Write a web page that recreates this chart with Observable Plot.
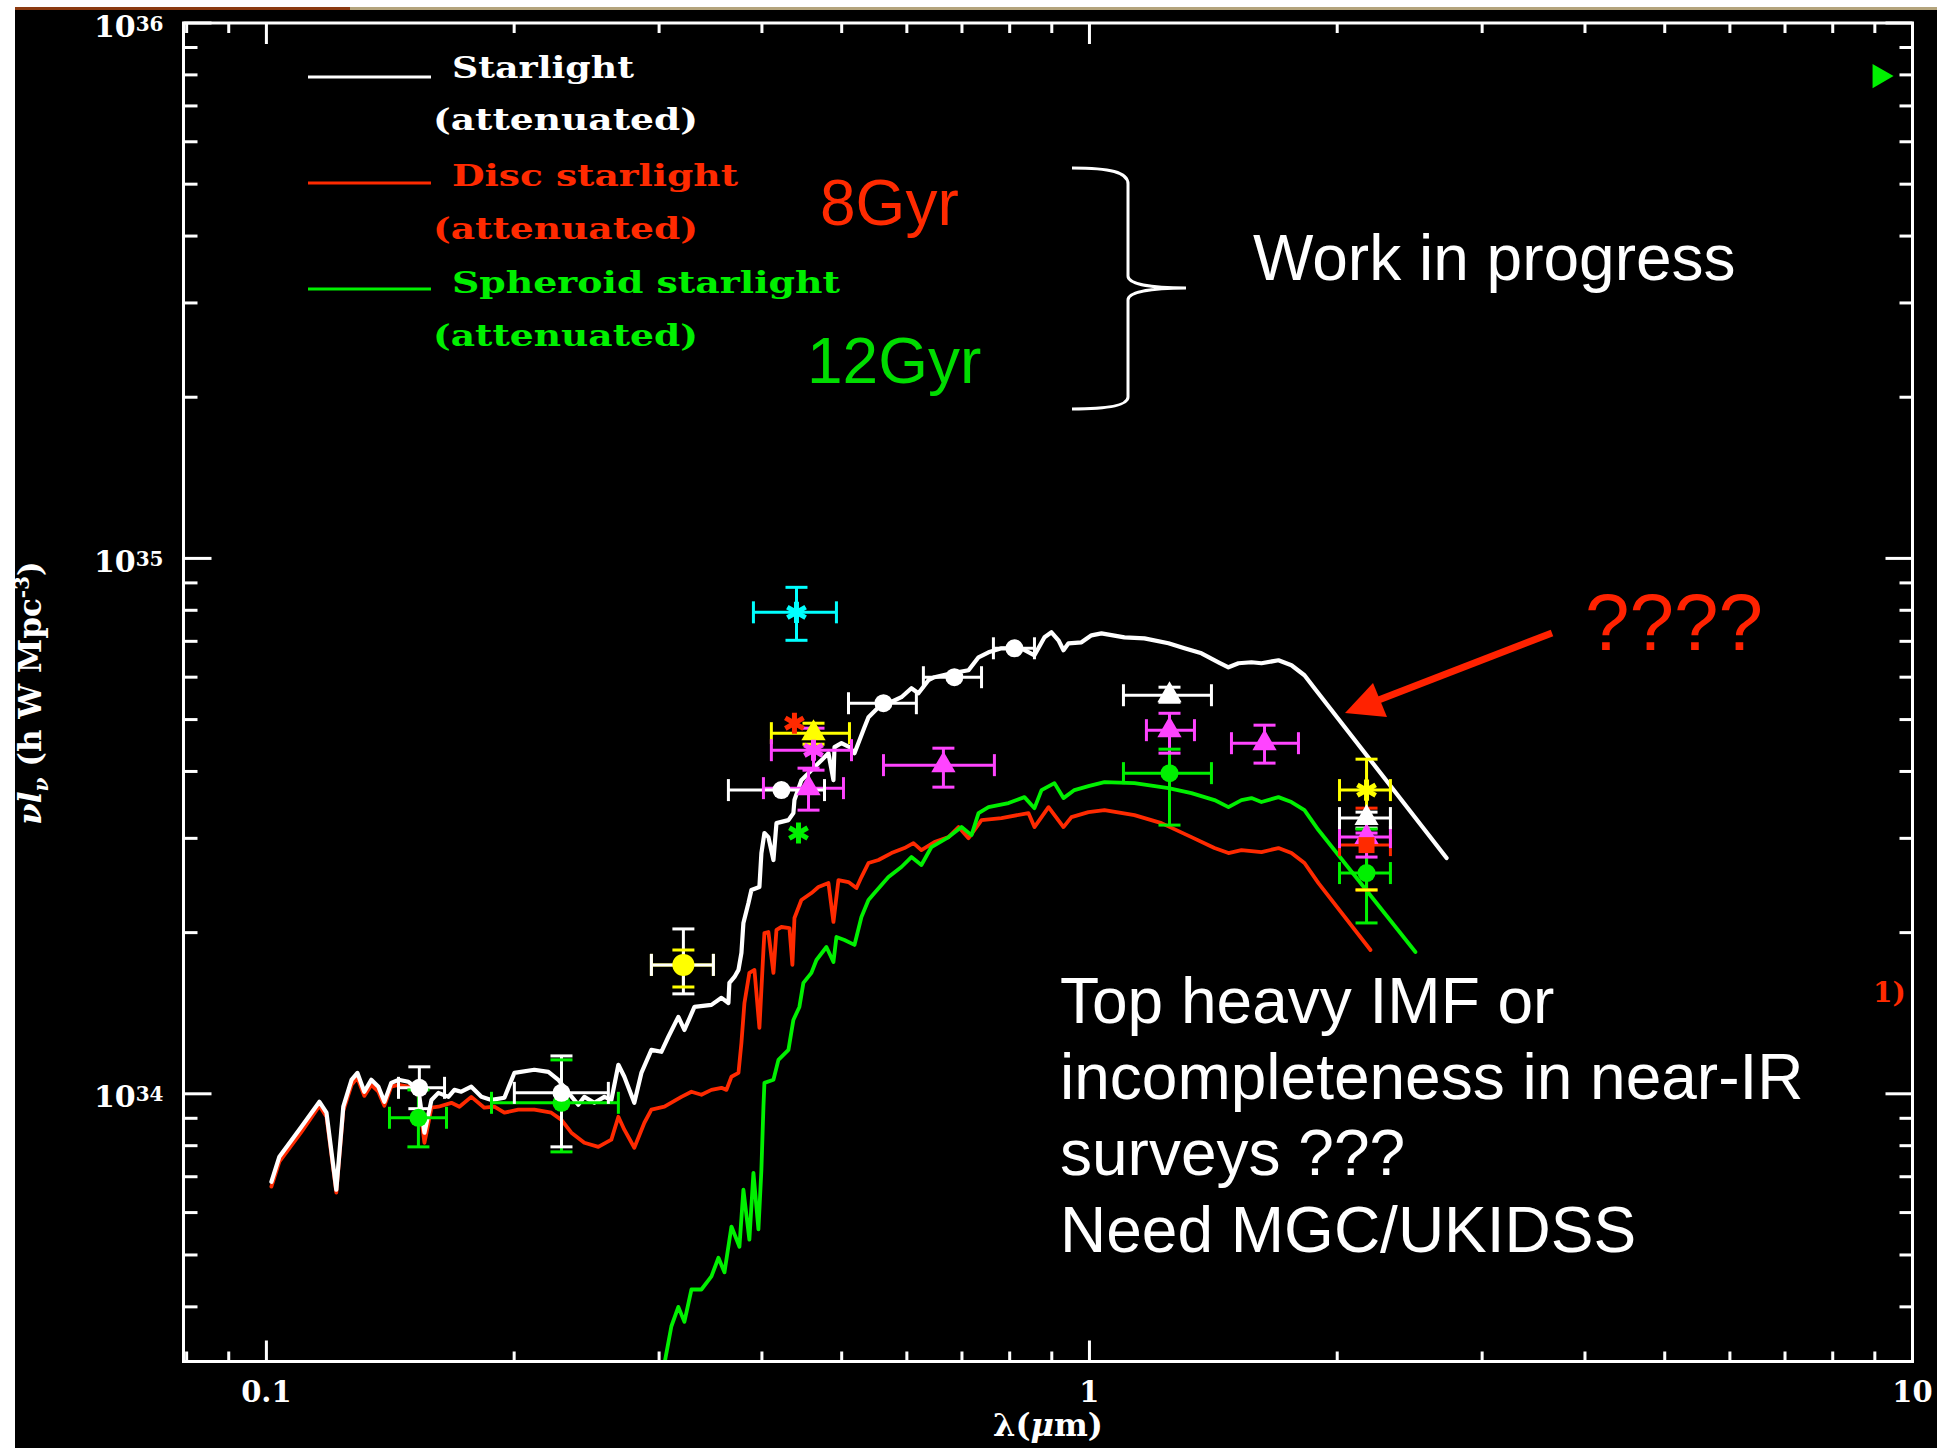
<!DOCTYPE html>
<html><head><meta charset="utf-8">
<script src="https://cdn.jsdelivr.net/npm/d3@7"></script>
<script src="https://cdn.jsdelivr.net/npm/@observablehq/plot@0.6"></script>
<style>
html,body{margin:0;padding:0;background:#fff;width:1957px;height:1448px;overflow:hidden;}
#chart{position:absolute;left:15px;top:10px;width:1922px;height:1438px;overflow:hidden;background:#000;}
#overlay{position:absolute;left:0;top:0;width:1957px;height:1448px;pointer-events:none;}
</style></head><body>
<div id="chart"></div>
<svg id="overlay" width="1957" height="1448"></svg>
<script>
// ---------------- data ----------------
// wavelength (micron), nu*l_nu in units of 1e34 h W Mpc^-3
const whiteCurve = [[0.1014,0.685],[0.1037,0.763],[0.1103,0.868],[0.1160,0.966],[0.1183,0.922],[0.1216,0.662],[0.1240,0.946],[0.1269,1.062],[0.1290,1.094],[0.1315,1.009],[0.1341,1.062],[0.1368,1.031],[0.1391,0.966],[0.1418,1.048],[0.1447,1.062],[0.1488,1.053],[0.1530,1.017],[0.1556,0.846],[0.1587,0.974],[0.1618,1.004],[0.1664,0.987],[0.1692,1.017],[0.1725,1.009],[0.1774,1.031],[0.1825,0.987],[0.1877,0.974],[0.1946,0.983],[0.2001,1.094],[0.2116,1.109],[0.2201,1.099],[0.2263,1.062],[0.2328,1.004],[0.2393,0.954],[0.2434,0.987],[0.2503,0.962],[0.2574,0.987],[0.2625,0.974],[0.2677,1.133],[0.2722,1.076],[0.2799,0.962],[0.2855,1.094],[0.2936,1.208],[0.3019,1.198],[0.3079,1.278],[0.3166,1.392],[0.3220,1.316],[0.3312,1.453],[0.3473,1.466],[0.3572,1.511],[0.3642,1.478],[0.3652,1.611],[0.3704,1.653],[0.3746,1.704],[0.3777,1.833],[0.3798,2.085],[0.3852,2.272],[0.3884,2.403],[0.3972,2.434],[0.3994,2.816],[0.4028,3.069],[0.4073,3.016],[0.4131,2.733],[0.4166,3.203],[0.4308,3.245],[0.4368,3.344],[0.4381,3.537],[0.4467,3.853],[0.4594,4.022],[0.4725,4.199],[0.4818,4.327],[0.4886,3.853],[0.4900,4.440],[0.4997,4.517],[0.5110,4.440],[0.5182,4.327],[0.5255,4.576],[0.5329,4.838],[0.5389,5.050],[0.5542,5.273],[0.5699,5.364],[0.5909,5.505],[0.6077,5.722],[0.6197,5.600],[0.6373,5.922],[0.6481,5.999],[0.6799,6.103],[0.7130,6.181],[0.7332,6.536],[0.7540,6.678],[0.7818,6.794],[0.8268,6.794],[0.8574,6.592],[0.8818,7.122],[0.8992,7.277],[0.9170,7.031],[0.9299,6.737],[0.9430,6.941],[0.9779,6.971],[1.0056,7.183],[1.0342,7.245],[1.1028,7.122],[1.1662,7.091],[1.2474,6.941],[1.3045,6.794],[1.3681,6.649],[1.4347,6.397],[1.4753,6.261],[1.5172,6.370],[1.5734,6.397],[1.6180,6.370],[1.6968,6.453],[1.7597,6.315],[1.8249,6.050],[1.8767,5.722],[2.7160,2.757]];

const redCurve = [[0.1014,0.671],[0.1037,0.747],[0.1103,0.849],[0.1160,0.950],[0.1183,0.906],[0.1216,0.654],[0.1240,0.930],[0.1269,1.039],[0.1290,1.071],[0.1315,0.991],[0.1341,1.039],[0.1368,1.009],[0.1391,0.950],[0.1418,1.031],[0.1447,1.039],[0.1488,1.031],[0.1530,0.996],[0.1556,0.810],[0.1587,0.942],[0.1618,0.946],[0.1678,0.962],[0.1716,0.946],[0.1774,0.987],[0.1840,0.942],[0.1892,0.946],[0.1946,0.922],[0.2023,0.934],[0.2116,0.934],[0.2219,0.922],[0.2283,0.894],[0.2347,0.846],[0.2434,0.810],[0.2531,0.796],[0.2625,0.821],[0.2677,0.906],[0.2722,0.857],[0.2799,0.793],[0.2879,0.883],[0.2936,0.934],[0.3045,0.946],[0.3193,0.987],[0.3284,1.009],[0.3377,0.996],[0.3473,1.017],[0.3572,1.026],[0.3622,1.017],[0.3673,1.076],[0.3746,1.094],[0.3777,1.245],[0.3809,1.478],[0.3862,1.682],[0.3917,1.704],[0.3972,1.328],[0.4017,1.856],[0.4028,1.997],[0.4073,2.005],[0.4131,1.682],[0.4166,2.023],[0.4224,2.049],[0.4320,2.040],[0.4356,1.741],[0.4381,2.130],[0.4467,2.301],[0.4594,2.371],[0.4685,2.434],[0.4818,2.475],[0.4886,2.094],[0.4955,2.507],[0.5096,2.486],[0.5211,2.423],[0.5284,2.540],[0.5389,2.698],[0.5542,2.733],[0.5747,2.816],[0.5959,2.877],[0.6111,2.939],[0.6249,2.852],[0.6481,2.952],[0.6742,3.016],[0.6934,3.149],[0.7130,3.003],[0.7394,3.245],[0.7818,3.273],[0.8431,3.344],[0.8574,3.149],[0.8918,3.431],[0.9299,3.149],[0.9509,3.287],[0.9972,3.358],[1.0429,3.387],[1.1341,3.315],[1.2231,3.203],[1.3303,3.016],[1.4187,2.877],[1.4753,2.816],[1.5300,2.852],[1.6180,2.828],[1.6968,2.877],[1.7597,2.816],[1.8249,2.698],[1.8978,2.475],[2.1950,1.856]];

const greenCurve = [[0.3028,0.299],[0.3105,0.368],[0.3166,0.400],[0.3220,0.375],[0.3284,0.431],[0.3377,0.431],[0.3473,0.456],[0.3542,0.494],[0.3602,0.464],[0.3673,0.565],[0.3756,0.518],[0.3798,0.662],[0.3862,0.534],[0.3906,0.712],[0.3961,0.558],[0.3994,0.721],[0.4017,0.946],[0.4028,1.048],[0.4131,1.062],[0.4189,1.157],[0.4308,1.208],[0.4368,1.374],[0.4442,1.453],[0.4492,1.611],[0.4594,1.682],[0.4659,1.778],[0.4791,1.880],[0.4886,1.763],[0.4927,1.963],[0.5039,1.938],[0.5182,1.897],[0.5284,2.139],[0.5389,2.301],[0.5480,2.371],[0.5699,2.540],[0.5909,2.652],[0.6077,2.768],[0.6249,2.675],[0.6427,2.890],[0.6742,3.016],[0.6992,3.149],[0.7190,3.042],[0.7332,3.344],[0.7540,3.431],[0.7974,3.492],[0.8337,3.582],[0.8574,3.416],[0.8745,3.692],[0.9067,3.804],[0.9299,3.567],[0.9589,3.692],[0.9972,3.755],[1.0429,3.820],[1.1341,3.804],[1.2474,3.723],[1.3303,3.644],[1.4187,3.537],[1.4753,3.431],[1.5300,3.537],[1.5734,3.567],[1.6180,3.507],[1.6968,3.582],[1.7597,3.507],[1.8249,3.387],[1.8978,3.109],[2.4893,1.840]];

// observed points: lam, L, lamLo, lamHi, Llo, Lhi, marker
const whitePoints = [
  {lam:0.1534, L:1.026, lamLo:0.1447, lamHi:0.1646, Llo:0.938, Lhi:1.123, m:"circle"},
  {lam:0.2283, L:1.004, lamLo:0.2001, lamHi:0.2603, Llo:0.796, Lhi:1.177, m:"circle"},
  {lam:0.3211, L:1.741, lamLo:0.2936, lamHi:0.3492, Llo:1.537, Lhi:2.032, m:"circle"},
  {lam:0.4224, L:3.692, lamLo:0.3642, lamHi:0.4765, m:"circle"},
  {lam:0.5620, L:5.364, lamLo:0.5096, lamHi:0.6162, m:"circle"},
  {lam:0.6853, L:5.999, lamLo:0.6284, lamHi:0.7394, m:"circle"},
  {lam:0.8106, L:6.794, lamLo:0.7644, lamHi:0.8574, m:"circle"},
  {lam:1.251,  L:5.552, lamLo:1.0998, lamHi:1.4068, Llo:5.387, Lhi:5.747, m:"triangle"},
  {lam:2.171,  L:3.273, lamLo:2.013,  lamHi:2.321,  Llo:3.135, Lhi:3.358, m:"triangle"}
];
const magentaPoints = [
  {lam:0.4621, L:4.383, lamLo:0.4107, lamHi:0.5139, Llo:4.022, Lhi:4.818, m:"asterisk"},
  {lam:0.4557, L:3.723, lamLo:0.4017, lamHi:0.5025, Llo:3.387, Lhi:4.057, m:"triangle"},
  {lam:0.6646, L:4.110, lamLo:0.5620, lamHi:0.7665, Llo:3.739, Lhi:4.421, m:"triangle"},
  {lam:1.251,  L:4.777, lamLo:1.1728, lamHi:1.3415, Llo:4.327, Lhi:5.137, m:"triangle"},
  {lam:1.632,  L:4.517, lamLo:1.4878, lamHi:1.7945, Llo:4.146, Lhi:4.881, m:"triangle"},
  {lam:2.171,  L:3.016, lamLo:2.013,  lamHi:2.321,  Llo:2.768, Lhi:3.069, m:"triangle"}
];
const yellowPoints = [
  {lam:0.3211, L:1.741, lamLo:0.2936, lamHi:0.3492, Llo:1.583, Lhi:1.856, m:"bigcircle"},
  {lam:0.4621, L:4.716, lamLo:0.4107, lamHi:0.5110, Llo:4.497, Lhi:4.922, m:"triangle"},
  {lam:2.171,  L:3.692, lamLo:2.013,  lamHi:2.321,  Llo:2.403, Lhi:4.217, m:"asterisk"}
];
const greenPoints = [
  {lam:0.1530, L:0.902, lamLo:0.1411, lamHi:0.1655, Llo:0.796, Lhi:1.017, m:"circle"},
  {lam:0.2283, L:0.962, lamLo:0.1877, lamHi:0.2677, Llo:0.779, Lhi:1.157, m:"circle"},
  {lam:0.4431, L:3.069, m:"asterisk"},
  {lam:1.251,  L:3.971, lamLo:1.0998, lamHi:1.4068, Llo:3.176, Lhi:4.402, m:"circle"},
  {lam:2.171,  L:2.584, lamLo:2.013,  lamHi:2.321,  Llo:2.085, Lhi:3.122, m:"circle"},
  {lam:9.12,   L:79.6, m:"arrowhead"}
];
const cyanPoints = [
  {lam:0.4406, L:7.930, lamLo:0.3906, lamHi:0.4927, Llo:7.031, Lhi:8.830, m:"asterisk"}
];
const redPoints = [
  {lam:0.4381, L:4.922, m:"asterisk"},
  {lam:2.171,  L:2.914, lamLo:2.013, lamHi:2.321, Llo:2.403, Lhi:3.416, m:"square"}
];

const xMajorTicks = [0.1, 1, 10];
const xMinorTicks = [0.08,0.09,0.2,0.3,0.4,0.5,0.6,0.7,0.8,0.9,2,3,4,5,6,7,8,9];
const yMajorTicks = [1e34, 1e35, 1e36];
const yMinorTicks = [4e33,5e33,6e33,7e33,8e33,9e33,2e34,3e34,4e34,5e34,6e34,7e34,8e34,9e34,2e35,3e35,4e35,5e35,6e35,7e35,8e35,9e35];

const legendLabels = ["Starlight", "Disc starlight", "Spheroid starlight"];
const noteLines = ["Top heavy IMF or", "incompleteness in near-IR", "surveys ???", "Need MGC/UKIDSS"];

// ---------------- styles ----------------
const WHITE="#ffffff", RED="#ff2a00", GREEN="#00f000", MAGENTA="#ff44ff", YELLOW="#ffff00", CYAN="#00ffff";
const L_UNIT = 1e34;
const X_DOMAIN = [0.0793, 10];
const Y_DOMAIN = [Math.pow(10, 33.5), 1e36];

const allPoints = [
  ...redPoints.map(p => ({...p, c: RED})),
  ...yellowPoints.map(p => ({...p, c: YELLOW})),
  ...greenPoints.map(p => ({...p, c: GREEN})),
  ...magentaPoints.map(p => ({...p, c: MAGENTA})),
  ...whitePoints.map(p => ({...p, c: WHITE})),
  ...cyanPoints.map(p => ({...p, c: CYAN}))
];
const hBars = allPoints.filter(p => p.lamLo != null);
const vBars = allPoints.filter(p => p.Llo != null);

const seg = (x1, y1, x2, y2) => ({draw(ctx) { ctx.moveTo(x1, y1); ctx.lineTo(x2, y2); }});
const CAP = 11;
const px = p => p.lam, py = p => p.L * L_UNIT;

function ticks(data, axis, anchor, len) {
  const sym = anchor === "left" ? seg(0,0,len,0) : anchor === "right" ? seg(0,0,-len,0)
            : anchor === "bottom" ? seg(0,0,0,-len) : seg(0,0,0,len);
  const ch = axis === "x" ? {x: d => d} : {y: d => d};
  return Plot.dot(data, {...ch, frameAnchor: anchor, symbol: sym, fill: "none", stroke: WHITE, strokeWidth: 3});
}
const supDigits = {"0":"⁰","1":"¹","2":"²","3":"³","4":"⁴","5":"⁵","6":"⁶","7":"⁷","8":"⁸","9":"⁹"};
const powFmt = d => "10" + String(Math.round(Math.log10(d))).split("").map(c => supDigits[c]).join("");

const curveOpts = (stroke, w) => ({x: d => d[0], y: d => d[1] * L_UNIT, stroke, strokeWidth: w, strokeLinejoin: "round", strokeLinecap: "round", clip: true});

const marks = [
  Plot.line(redCurve, curveOpts(RED, 3.8)),
  Plot.line(greenCurve, curveOpts(GREEN, 3.8)),
  Plot.line(whiteCurve, curveOpts(WHITE, 4.2)),
  // error bars
  Plot.ruleY(hBars, {y: py, x1: p => p.lamLo, x2: p => p.lamHi, stroke: p => p.c, strokeWidth: 3}),
  Plot.ruleX(vBars, {x: px, y1: p => p.Llo * L_UNIT, y2: p => p.Lhi * L_UNIT, stroke: p => p.c, strokeWidth: 3}),
  Plot.dot(hBars, {x: p => p.lamLo, y: py, symbol: seg(0,-CAP,0,CAP), fill: "none", stroke: p => p.c, strokeWidth: 3}),
  Plot.dot(hBars, {x: p => p.lamHi, y: py, symbol: seg(0,-CAP,0,CAP), fill: "none", stroke: p => p.c, strokeWidth: 3}),
  Plot.dot(vBars, {x: px, y: p => p.Llo * L_UNIT, symbol: seg(-CAP,0,CAP,0), fill: "none", stroke: p => p.c, strokeWidth: 3}),
  Plot.dot(vBars, {x: px, y: p => p.Lhi * L_UNIT, symbol: seg(-CAP,0,CAP,0), fill: "none", stroke: p => p.c, strokeWidth: 3}),
  // markers
  Plot.dot(allPoints.filter(p => p.m === "circle"), {x: px, y: py, r: 9, fill: p => p.c, stroke: "none"}),
  Plot.dot(allPoints.filter(p => p.m === "bigcircle"), {x: px, y: py, r: 11, fill: p => p.c, stroke: "none"}),
  Plot.dot(allPoints.filter(p => p.m === "triangle"), {x: px, y: py, r: 9, symbol: "triangle", fill: p => p.c, stroke: "none"}),
  Plot.dot(allPoints.filter(p => p.m === "square"), {x: px, y: py, r: 9, symbol: "square", fill: p => p.c, stroke: "none"}),
  Plot.dot(allPoints.filter(p => p.m === "asterisk"), {x: px, y: py, r: 10, symbol: "asterisk", fill: "none", stroke: p => p.c, strokeWidth: 5}),
  Plot.dot(allPoints.filter(p => p.m === "arrowhead"), {x: px, y: py, r: 9, symbol: "triangle", rotate: 90, fill: p => p.c, stroke: "none"}),
  // frame ticks (inward)
  ticks(xMinorTicks, "x", "bottom", 10), ticks(xMajorTicks, "x", "bottom", 21),
  ticks(xMinorTicks, "x", "top", 10), ticks(xMajorTicks, "x", "top", 21),
  ticks(yMinorTicks, "y", "left", 14), ticks(yMajorTicks, "y", "left", 28),
  ticks(yMinorTicks, "y", "right", 13), ticks(yMajorTicks, "y", "right", 27),
  Plot.frame({stroke: WHITE, strokeWidth: 3}),
  Plot.axisX(xMajorTicks, {anchor: "bottom", tickSize: 0, tickPadding: 20, tickFormat: d => String(d), fontSize: 29, fontWeight: "bold", fontFamily: "DejaVu Serif", fill: WHITE, label: null}),
  Plot.axisY(yMajorTicks, {anchor: "left", tickSize: 0, tickPadding: 20, dy: 4, tickFormat: powFmt, fontSize: 30, fontWeight: "bold", fontFamily: "DejaVu Serif", fill: WHITE, label: null})
];

const chart = Plot.plot({
  width: 1922, height: 1438,
  marginLeft: 168, marginRight: 25, marginTop: 12.5, marginBottom: 87,
  x: {type: "log", domain: X_DOMAIN, axis: null},
  y: {type: "log", domain: Y_DOMAIN, axis: null},
  color: {type: "identity"},
  style: {background: "#000", color: WHITE, fontFamily: "DejaVu Serif", overflow: "hidden"},
  marks
});
document.getElementById("chart").appendChild(chart);

// render power-of-ten labels with a real raised exponent
const plainDigit = Object.fromEntries(Object.entries(supDigits).map(([k, v]) => [v, k]));
d3.select(chart).selectAll('g[aria-label="y-axis tick label"] text').each(function () {
  const s = this.textContent;
  if (!s.startsWith("10")) return;
  const exp = s.slice(2).split("").map(c => plainDigit[c] ?? c).join("");
  const t = d3.select(this);
  t.text(null);
  t.append("tspan").text("10");
  t.append("tspan").attr("font-size", 20).attr("dy", "-0.3em").text(exp);
});

// ---------------- annotations overlay ----------------
const ov = d3.select("#overlay");
ov.append("rect").attr("x", 15).attr("y", 7).attr("width", 335).attr("height", 3).attr("fill", "#8b3a10");
ov.append("rect").attr("x", 350).attr("y", 7).attr("width", 1587).attr("height", 3).attr("fill", "#b4a47c");

// legend
const legColors = [WHITE, RED, GREEN];
const legLineY = [77, 183, 289];
const legBase1 = [78, 186, 293];
const legBase2 = [130, 239, 346];
const legLen = [182, 286, 388];
const serifBold = "DejaVu Serif";
legendLabels.forEach((lab, i) => {
  ov.append("line").attr("x1", 308).attr("x2", 431).attr("y1", legLineY[i]).attr("y2", legLineY[i])
    .attr("stroke", legColors[i]).attr("stroke-width", 3);
  ov.append("text").attr("x", 452).attr("y", legBase1[i]).text(lab)
    .attr("fill", legColors[i]).attr("font-family", serifBold).attr("font-weight", "bold").attr("font-size", 29)
    .attr("textLength", legLen[i]).attr("lengthAdjust", "spacingAndGlyphs");
  ov.append("text").attr("x", 433).attr("y", legBase2[i]).text("(attenuated)")
    .attr("fill", legColors[i]).attr("font-family", serifBold).attr("font-weight", "bold").attr("font-size", 29)
    .attr("textLength", 265).attr("lengthAdjust", "spacingAndGlyphs");
});

const sans = "'Liberation Sans', Arial, sans-serif";
ov.append("text").attr("x", 820).attr("y", 225).text("8Gyr").attr("fill", "#ff2a00")
  .attr("font-family", sans).attr("font-size", 64);
ov.append("text").attr("x", 807).attr("y", 383).text("12Gyr").attr("fill", "#00dd00")
  .attr("font-family", sans).attr("font-size", 64);
ov.append("path")
  .attr("d", "M1072,168 C1110,168 1128,172 1128,184 L1128,276 C1128,284 1150,288 1186,288 C1150,288 1128,292 1128,300 L1128,397 C1128,405 1110,409 1072,409")
  .attr("fill", "none").attr("stroke", WHITE).attr("stroke-width", 3);
ov.append("text").attr("x", 1253).attr("y", 280).text("Work in progress").attr("fill", WHITE)
  .attr("font-family", sans).attr("font-size", 64);

ov.append("text").attr("x", 1585).attr("y", 650).text("????").attr("fill", "#ff2200")
  .attr("font-family", sans).attr("font-size", 80);
ov.append("line").attr("x1", 1552).attr("y1", 633).attr("x2", 1376).attr("y2", 701)
  .attr("stroke", "#ff2200").attr("stroke-width", 7);
ov.append("polygon").attr("points", "1345,713 1373,683 1387,717").attr("fill", "#ff2200");

noteLines.forEach((t, i) => {
  ov.append("text").attr("x", 1060).attr("y", [1023, 1099, 1175, 1252][i]).text(t).attr("fill", WHITE)
    .attr("font-family", sans).attr("font-size", 64);
});

ov.append("text").attr("x", 1873).attr("y", 1002).text("1)").attr("fill", RED)
  .attr("font-family", serifBold).attr("font-weight", "bold").attr("font-size", 28);

// axis titles
const yl = ov.append("text").attr("transform", "translate(41,693) rotate(-90)").attr("text-anchor", "middle")
  .attr("fill", WHITE).attr("font-family", serifBold).attr("font-weight", "bold").attr("font-size", 31);
yl.append("tspan").attr("font-style", "italic").text("νl");
yl.append("tspan").attr("font-size", 20).attr("dy", 7).attr("font-style", "italic").text("ν");
yl.append("tspan").attr("dy", -7).text(" (h W Mpc");
yl.append("tspan").attr("font-size", 20).attr("dy", -12).text("-3");
yl.append("tspan").attr("dy", 12).text(")");

const xl = ov.append("text").attr("x", 1048).attr("y", 1436).attr("text-anchor", "middle")
  .attr("fill", WHITE).attr("font-family", serifBold).attr("font-weight", "bold").attr("font-size", 32);
xl.append("tspan").text("λ(");
xl.append("tspan").attr("font-style", "italic").text("μ");
xl.append("tspan").text("m)");
</script></body></html>
